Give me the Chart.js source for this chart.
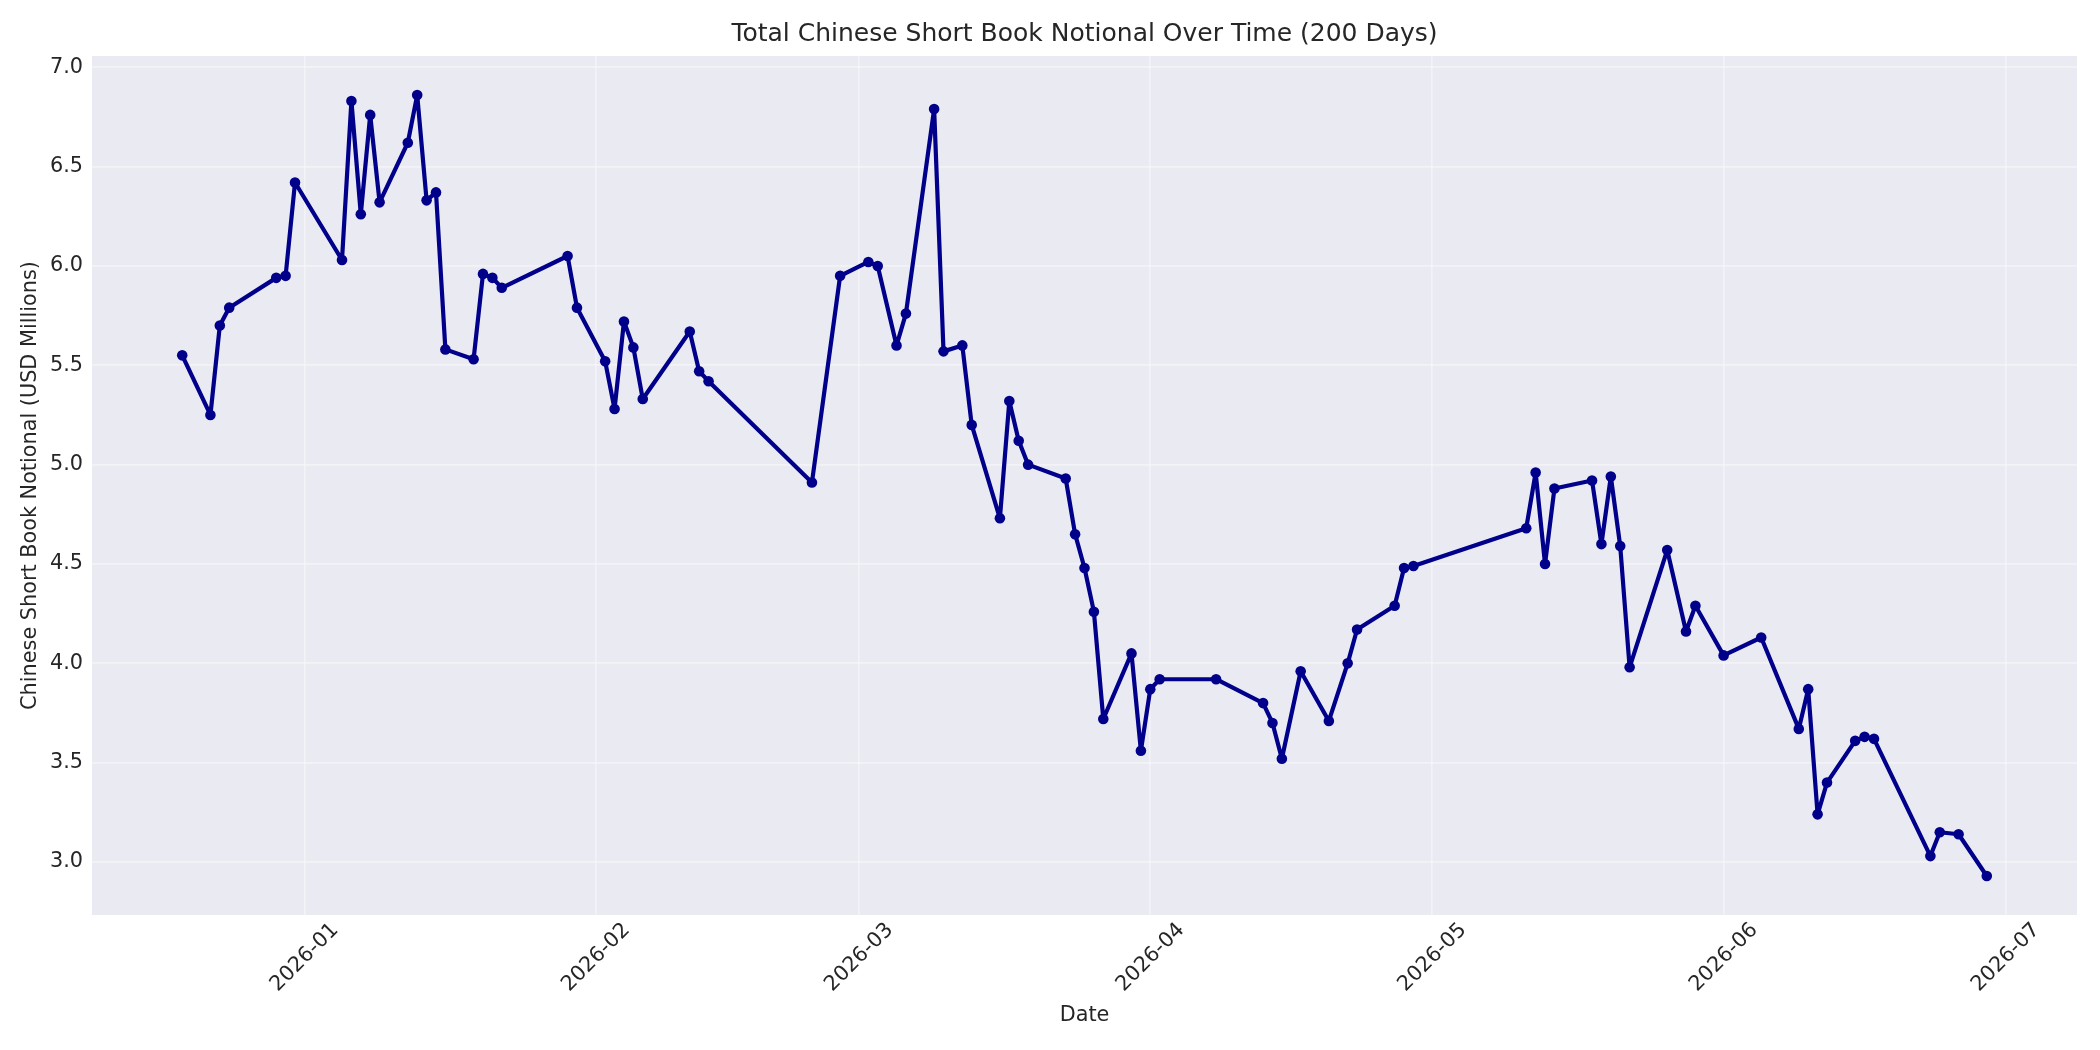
<!DOCTYPE html>
<html>
<head>
<meta charset="utf-8">
<script src="https://cdn.jsdelivr.net/npm/chart.js@4.4.1/dist/chart.umd.min.js"></script>
<style>
  html, body { margin: 0; padding: 0; background: #ffffff; }
  canvas { display: block; }
</style>
</head>
<body>
<canvas id="chart" width="2100" height="1050" style="width:2100px;height:1050px"></canvas>
<script>
// data
const dates = [
  "2025-12-19", "2025-12-22", "2025-12-23", "2025-12-24", "2025-12-29", "2025-12-30", "2025-12-31",
  "2026-01-05", "2026-01-06", "2026-01-07", "2026-01-08", "2026-01-09", "2026-01-12", "2026-01-13",
  "2026-01-14", "2026-01-15", "2026-01-16", "2026-01-19", "2026-01-20", "2026-01-21", "2026-01-22",
  "2026-01-29", "2026-01-30", "2026-02-02", "2026-02-03", "2026-02-04", "2026-02-05", "2026-02-06",
  "2026-02-11", "2026-02-12", "2026-02-13", "2026-02-24", "2026-02-27", "2026-03-02", "2026-03-03",
  "2026-03-05", "2026-03-06", "2026-03-09", "2026-03-10", "2026-03-12", "2026-03-13", "2026-03-16",
  "2026-03-17", "2026-03-18", "2026-03-19", "2026-03-23", "2026-03-24", "2026-03-25", "2026-03-26",
  "2026-03-27", "2026-03-30", "2026-03-31", "2026-04-01", "2026-04-02", "2026-04-08", "2026-04-13",
  "2026-04-14", "2026-04-15", "2026-04-17", "2026-04-20", "2026-04-22", "2026-04-23", "2026-04-27",
  "2026-04-28", "2026-04-29", "2026-05-11", "2026-05-12", "2026-05-13", "2026-05-14", "2026-05-18",
  "2026-05-19", "2026-05-20", "2026-05-21", "2026-05-22", "2026-05-26", "2026-05-28", "2026-05-29",
  "2026-06-01", "2026-06-05", "2026-06-09", "2026-06-10", "2026-06-11", "2026-06-12", "2026-06-15",
  "2026-06-16", "2026-06-17", "2026-06-23", "2026-06-24", "2026-06-26", "2026-06-29"
];

const notional = [
  5.55, 5.25, 5.70, 5.79, 5.94, 5.95, 6.42,
  6.03, 6.83, 6.26, 6.76, 6.32, 6.62, 6.86,
  6.33, 6.37, 5.58, 5.53, 5.96, 5.94, 5.89,
  6.05, 5.79, 5.52, 5.28, 5.72, 5.59, 5.33,
  5.67, 5.47, 5.42, 4.91, 5.95, 6.02, 6.00,
  5.60, 5.76, 6.79, 5.57, 5.60, 5.20, 4.73,
  5.32, 5.12, 5.00, 4.93, 4.65, 4.48, 4.26,
  3.72, 4.05, 3.56, 3.87, 3.92, 3.92, 3.80,
  3.70, 3.52, 3.96, 3.71, 4.00, 4.17, 4.29,
  4.48, 4.49, 4.68, 4.96, 4.50, 4.88, 4.92,
  4.60, 4.94, 4.59, 3.98, 4.57, 4.16, 4.29,
  4.04, 4.13, 3.67, 3.87, 3.24, 3.40, 3.61,
  3.63, 3.62, 3.03, 3.15, 3.14, 2.93
];

const monthTicks = ["2026-01", "2026-02", "2026-03", "2026-04", "2026-05", "2026-06", "2026-07"];
const yTicks = [3.0, 3.5, 4.0, 4.5, 5.0, 5.5, 6.0, 6.5, 7.0];

// days since 2026-01-01, so the x axis can be a plain linear scale
const epoch = Date.UTC(2026, 0, 1);
function dayOf(s) {
  const p = s.split("-").map(Number);
  return (Date.UTC(p[0], p[1] - 1, p[2] || 1) - epoch) / 86400000;
}

const points = dates.map((d, i) => ({ x: dayOf(d), y: notional[i] }));

// matplotlib style 5% margins
const xs = points.map(p => p.x);
const xLo = Math.min(...xs), xHi = Math.max(...xs);
const xPad = (xHi - xLo) * 0.05;
const yLo = Math.min(...notional), yHi = Math.max(...notional);
const yPad = (yHi - yLo) * 0.05;

const textColor = "#262626";
const family = "'DejaVu Sans', sans-serif";
const gridColor = "rgba(255,255,255,0.38)";

const plotBg = {
  id: "plotBg",
  beforeDraw(chart) {
    const { ctx, chartArea: a } = chart;
    ctx.save();
    ctx.fillStyle = "#eaeaf2";
    ctx.fillRect(a.left, a.top, a.width, a.height);
    ctx.restore();
  }
};

const ctx = document.getElementById("chart").getContext("2d");

new Chart(ctx, {
  type: "line",
  data: {
    datasets: [{
      label: "Notional",
      data: points,
      borderColor: "#00008b",
      backgroundColor: "#00008b",
      borderWidth: 4.2,
      borderJoinStyle: "round",
      borderCapStyle: "round",
      pointRadius: 5.3,
      pointBorderWidth: 0,
      pointBackgroundColor: "#00008b",
      tension: 0,
      fill: false
    }]
  },
  options: {
    responsive: false,
    devicePixelRatio: 1,
    animation: false,
    layout: { padding: { left: 0, right: 23, top: 0, bottom: 0 } },
    plugins: {
      legend: { display: false },
      tooltip: { enabled: false },
      title: { display: false }
    },
    scales: {
      // top axis only carries the title, so it is centred over the plot like matplotlib
      top: {
        type: "linear",
        axis: "x",
        position: "top",
        min: xLo - xPad,
        max: xHi + xPad,
        afterFit: s => { s.height = 56; },
        ticks: { display: false },
        grid: { display: false, drawTicks: false },
        border: { display: false },
        title: {
          display: true,
          text: "Total Chinese Short Book Notional Over Time (200 Days)",
          color: textColor,
          font: { family: family, size: 25, weight: "normal" },
          padding: { top: 19, bottom: 0 }
        }
      },
      x: {
        type: "linear",
        position: "bottom",
        min: xLo - xPad,
        max: xHi + xPad,
        afterBuildTicks: s => { s.ticks = monthTicks.map(m => ({ value: dayOf(m) })); },
        afterFit: s => { s.height = 135; },
        ticks: {
          callback: (v, i) => monthTicks[i],
          autoSkip: false,
          minRotation: 45,
          maxRotation: 45,
          labelOffset: 31,
          padding: 3,
          color: textColor,
          font: { family: family, size: 20.8 }
        },
        grid: { color: gridColor, lineWidth: 1.7, drawTicks: false },
        border: { display: false },
        title: {
          display: true,
          text: "Date",
          color: textColor,
          font: { family: family, size: 20.8 },
          padding: { top: 0, bottom: 22 }
        }
      },
      y: {
        type: "linear",
        min: yLo - yPad,
        max: yHi + yPad,
        afterBuildTicks: s => { s.ticks = yTicks.map(v => ({ value: v })); },
        afterFit: s => { s.width = 92; },
        ticks: {
          callback: v => v.toFixed(1),
          padding: 9,
          color: textColor,
          font: { family: family, size: 20.8 }
        },
        grid: { color: gridColor, lineWidth: 1.7, drawTicks: false },
        border: { display: false },
        title: {
          display: true,
          text: "Chinese Short Book Notional (USD Millions)",
          color: textColor,
          font: { family: family, size: 20.8 },
          padding: { top: 18, bottom: 0 }
        }
      }
    }
  },
  plugins: [plotBg]
});
</script>
</body>
</html>
